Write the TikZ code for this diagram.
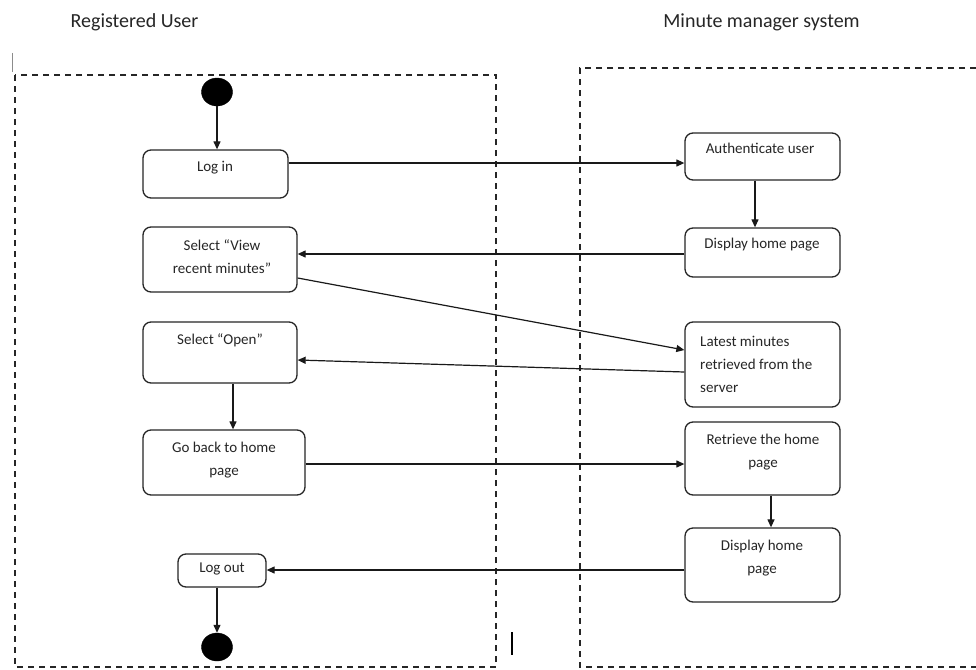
\documentclass[tikz,border=0pt]{standalone}
\usepackage{fontspec}
\setmainfont{Carlito}
\usetikzlibrary{arrows.meta,shapes.geometric}
\begin{document}
\begin{tikzpicture}[x=1pt,y=-1pt,
  box/.style={draw=black!85, rounded corners=8pt, line width=1.3pt, inner sep=0pt},
  lane/.style={draw=black!85, dash pattern=on 6pt off 5pt, line width=1.1pt},
  arr/.style={draw=black!90, line width=1.2pt, -{Triangle[length=8pt,width=7pt]}},
  txt/.style={font=\fontsize{15}{23}\selectfont, text=black!85, inner sep=0pt},
  one/.style={txt, text height=10pt, text depth=3pt},
  title/.style={font=\fontsize{20}{24}\selectfont, text=black!85, inner sep=0pt},
  dot/.style={ellipse, fill=black, draw=black, inner sep=0pt, minimum width=31pt, minimum height=28pt}]
\useasboundingbox (0,0) rectangle (976,669);
\fill[white] (0,0) rectangle (976,669);

% titles
\node[title, anchor=base] (t1) at (134.5,28) {Registered User};
\node[title, anchor=base] (t2) at (761.5,28) {Minute manager system};

% swimlanes
\draw[lane] (15,75) rectangle (496,667);
\draw[lane] (976,68) -- (580,68) -- (580,667) -- (976,667);

% stray marks
\draw[black!45, line width=0.8pt] (12.5,53) -- (12.5,72);
\draw[black, line width=2.6pt] (512,632) -- (512,655);

% start / end
\node[dot] (start) at (217,92) {};
\node[dot] (end) at (217,647) {};

% user boxes
\node[box, minimum width=145pt, minimum height=48pt] (login) at (215.5,174) {};
\node[box, minimum width=154pt, minimum height=65pt] (selview) at (220,259.5) {};
\node[box, minimum width=154pt, minimum height=61pt] (selopen) at (220,352.5) {};
\node[box, minimum width=162pt, minimum height=65pt] (goback) at (224,462.5) {};
\node[box, minimum width=88pt, minimum height=33pt] (logout) at (222,570.5) {};

% system boxes
\node[box, minimum width=155pt, minimum height=47pt] (auth) at (762.5,156.5) {};
\node[box, minimum width=155pt, minimum height=49pt] (disp1) at (762.5,252.5) {};
\node[box, minimum width=155pt, minimum height=85pt] (latest) at (762.5,364.5) {};
\node[box, minimum width=155pt, minimum height=73pt] (retr) at (762.5,458.5) {};
\node[box, minimum width=155pt, minimum height=74pt] (disp2) at (762.5,565) {};

% texts
\node[one] (loginT) at (215,168) {Log in};
\node[txt, align=center] (selviewT) at (222,257) {Select “View\\recent minutes”};
\node[one] (selopenT) at (220,341) {Select “Open”};
\node[txt, align=center] (gobackT) at (224,460) {Go back to home\\page};
\node[one] (logoutT) at (222,569) {Log out};
\node[one] (authT) at (760,150) {Authenticate user};
\node[one] (disp1T) at (762,245) {Display home page};
\node[txt, align=left, anchor=west] (latestT) at (700,364) {Latest minutes\\retrieved from the\\server};
\node[txt, align=center] (retrT) at (763,452) {Retrieve the home\\page};
\node[txt, align=center] (disp2T) at (762,558.5) {Display home\\page};

% connectors
\draw[arr] (start.south) -- (start.south |- login.north);
\draw[arr] (login.east |- 0,163) -- (auth.west |- 0,163);
\draw[arr] (auth.south -| 755,0) -- (disp1.north -| 755,0);
\draw[arr] (disp1.west |- 0,254) -- (selview.east |- 0,254);
\draw[arr] (selview.east |- 0,278) -- (latest.west |- 0,350);
\draw[arr] (latest.west |- 0,372) -- (selopen.east |- 0,360);
\draw[arr] (selopen.south -| 233,0) -- (goback.north -| 233,0);
\draw[arr] (goback.east |- 0,464) -- (retr.west |- 0,464);
\draw[arr] (retr.south -| 771,0) -- (disp2.north -| 771,0);
\draw[arr] (disp2.west |- 0,570) -- (logout.east |- 0,570);
\draw[arr] (logout.south -| 217,0) -- (end.north);
\end{tikzpicture}
\end{document}
